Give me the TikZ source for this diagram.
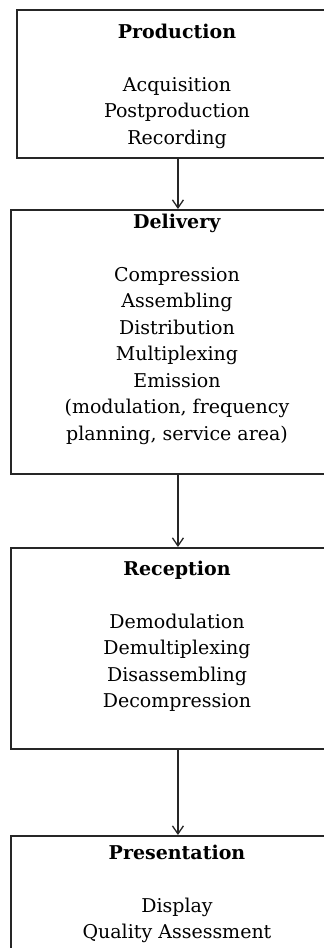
\documentclass[tikz,border=0pt]{standalone}
\usepackage{fontspec}
\setmainfont{DejaVu Serif}
\usetikzlibrary{arrows.meta}
\begin{document}
\begin{tikzpicture}[x=1pt,y=1pt,
  box/.style={draw=black!85, line width=1.9pt, inner sep=0pt, anchor=north west},
  txt/.style={align=center, font=\fontsize{19}{26.5}\selectfont, anchor=north, inner sep=0pt},
  arr/.style={line width=1.3pt, draw=black!85, -{Straight Barb[length=8pt,width=11pt,line width=1.3pt]}}]
\useasboundingbox (0,0) rectangle (324,-948);
\clip (0,0) rectangle (324,-948);
\node[box, minimum width=322pt, minimum height=148pt] (b1) at (16,-9) {};
\node[box, minimum width=334pt, minimum height=264pt] (b2) at (10,-209) {};
\node[box, minimum width=334pt, minimum height=201pt] (b3) at (10,-547) {};
\node[box, minimum width=334pt, minimum height=160pt] (b4) at (10,-835) {};
\node[txt] (t1) at (177,-23.6) {\textbf{Production}\\[26.5pt]Acquisition\\Postproduction\\Recording};
\node[txt] (t2) at (177,-213.6) {\textbf{Delivery}\\[26.5pt]Compression\\Assembling\\Distribution\\Multiplexing\\Emission\\(modulation, frequency\\planning, service area)};
\node[txt] (t3) at (177,-560.6) {\textbf{Reception}\\[26.5pt]Demodulation\\Demultiplexing\\Disassembling\\Decompression};
\node[txt] (t4) at (177,-844.6) {\textbf{Presentation}\\[26.5pt]Display\\Quality Assessment};
\draw[arr] (b1.south) -- (b2.north);
\draw[arr] (b2.south) -- (b3.north);
\draw[arr] (b3.south) -- (b4.north);
\end{tikzpicture}
\end{document}
